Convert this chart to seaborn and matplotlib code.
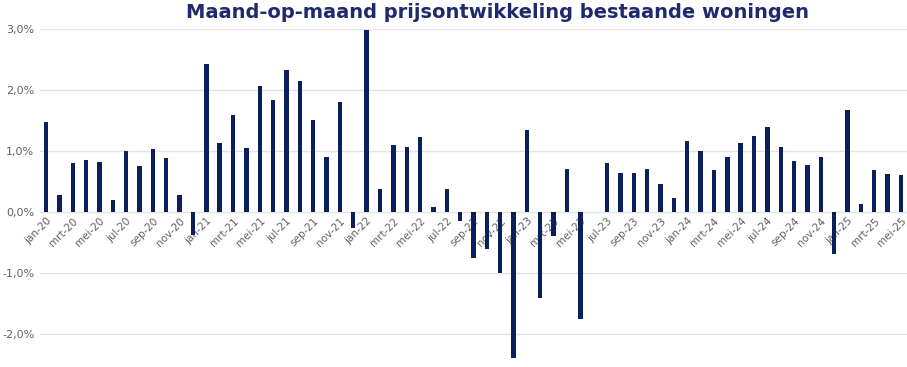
import numpy as np
import matplotlib
matplotlib.use("Agg")
import matplotlib.pyplot as plt
import seaborn as sns
from matplotlib.ticker import FuncFormatter

# maand-op-maand prijsontwikkeling (%), jan-20 t/m mei-25
maanden_nl = ['jan', 'feb', 'mrt', 'apr', 'mei', 'jun', 'jul', 'aug', 'sep', 'okt', 'nov', 'dec']
jaren = ['20', '21', '22', '23', '24', '25']
months = [f"{m}-{j}" for j in jaren for m in maanden_nl][:65]

values_2020 = [1.47, 0.28, 0.80, 0.85, 0.81, 0.19, 1.00, 0.75, 1.03, 0.88, 0.27, -0.39]
values_2021 = [2.43, 1.13, 1.59, 1.05, 2.06, 1.83, 2.33, 2.15, 1.51, 0.90, 1.80, -0.26]
values_2022 = [2.99, 0.38, 1.09, 1.07, 1.23, 0.07, 0.37, -0.16, -0.76, -0.62, -1.00, -2.41]
values_2023 = [1.34, -1.42, -0.40, 0.70, -1.76, 0.0, 0.80, 0.64, 0.63, 0.70, 0.46, 0.22]
values_2024 = [1.16, 0.99, 0.68, 0.90, 1.12, 1.25, 1.39, 1.07, 0.84, 0.77, 0.90, -0.70]
values_2025 = [1.67, 0.13, 0.68, 0.62, 0.60]
values = values_2020 + values_2021 + values_2022 + values_2023 + values_2024 + values_2025

bar_color = "#0B1F5C"
title_color = "#1F2A6E"
grid_color = "#E3E3E3"
text_color = "#606060"

sns.set_style("white")
plt.rcParams['font.family'] = ['DejaVu Sans']

fig = plt.figure(figsize=(9.07, 3.67), dpi=100)
ax = fig.add_axes([40 / 907, 0.0, 867 / 907, 1 - 29 / 367])

sns.barplot(x=months, y=values, order=months, color=bar_color,
            width=0.33, saturation=1, linewidth=0, ax=ax, zorder=3)

ax.set_xlim(-0.45, 64.45)
ax.set_ylim(-2.55, 3.0)
ax.set_yticks([-2, -1, 0, 1, 2, 3])
ax.yaxis.set_major_formatter(FuncFormatter(lambda v, p: f"{v:.1f}%".replace('.', ',')))
ax.yaxis.grid(True, color=grid_color, linewidth=1, zorder=0)
ax.set_axisbelow(True)

ax.set_xticks(range(0, len(months), 2))
ax.set_xticklabels(months[::2])
ax.spines['bottom'].set_position(('data', 0))
for s in ax.spines.values():
    s.set_visible(False)

ax.tick_params(axis='x', length=0, pad=3, labelsize=7.5, labelcolor=text_color)
ax.tick_params(axis='y', length=0, pad=4, labelsize=8, labelcolor=text_color)
plt.setp(ax.get_xticklabels(), rotation=45, ha='right', va='top',
         rotation_mode='anchor')
ax.set_xlabel("")
ax.set_ylabel("")

fig.text(0.548, 0.965, "Maand-op-maand prijsontwikkeling bestaande woningen",
         ha='center', va='center', fontsize=14, fontweight='bold', color=title_color)

fig.savefig("out.png", dpi=100)
